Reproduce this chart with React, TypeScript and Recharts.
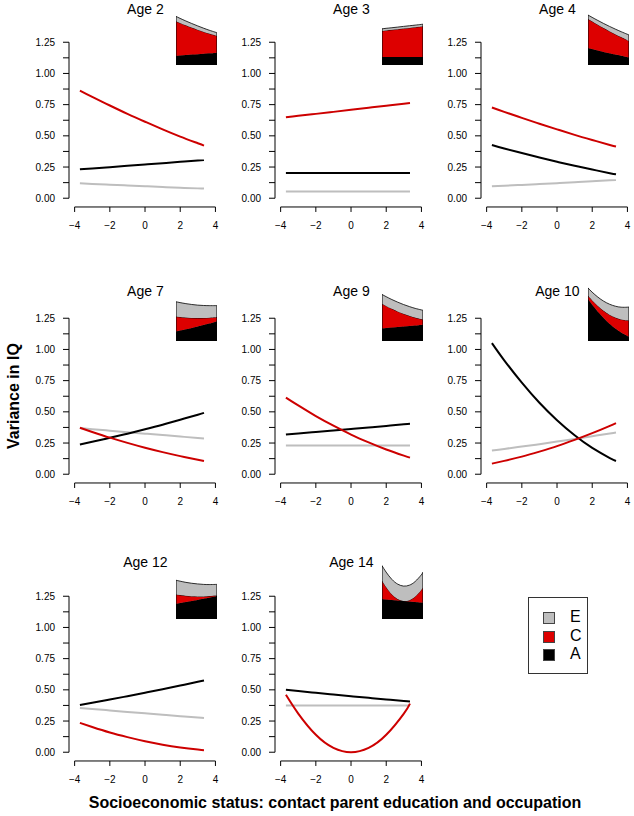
import React from "react";
import {
  LineChart,
  Line,
  AreaChart,
  Area,
  XAxis,
  YAxis,
  ReferenceLine,
} from "recharts";

// socioeconomic status values where the curves were read
const ses = [-3.7, -3, -2, -1, 0, 1, 2, 3, 3.35];

const age2A = [0.232, 0.239, 0.249, 0.26, 0.27, 0.281, 0.292, 0.303, 0.307];
const age2C = [0.863, 0.812, 0.743, 0.676, 0.613, 0.552, 0.494, 0.441, 0.422];
const age2E = [0.12, 0.115, 0.108, 0.102, 0.096, 0.09, 0.084, 0.079, 0.077];

const age3A = [0.203, 0.203, 0.203, 0.203, 0.203, 0.203, 0.203, 0.203, 0.203];
const age3C = [0.649, 0.661, 0.676, 0.692, 0.709, 0.725, 0.741, 0.758, 0.764];
const age3E = [0.053, 0.053, 0.053, 0.053, 0.053, 0.053, 0.053, 0.053, 0.053];

const age4A = [0.427, 0.399, 0.362, 0.326, 0.292, 0.26, 0.23, 0.201, 0.192];
const age4C = [0.727, 0.692, 0.644, 0.597, 0.552, 0.508, 0.467, 0.427, 0.414];
const age4E = [0.096, 0.101, 0.107, 0.114, 0.121, 0.129, 0.136, 0.144, 0.147];

const age7A = [0.239, 0.26, 0.292, 0.325, 0.36, 0.397, 0.437, 0.477, 0.492];
const age7C = [0.372, 0.339, 0.293, 0.251, 0.212, 0.177, 0.145, 0.116, 0.106];
const age7E = [0.37, 0.361, 0.349, 0.337, 0.325, 0.314, 0.302, 0.291, 0.287];

const age9A = [0.319, 0.327, 0.339, 0.351, 0.363, 0.375, 0.387, 0.4, 0.404];
const age9C = [0.614, 0.551, 0.466, 0.389, 0.318, 0.255, 0.198, 0.149, 0.133];
const age9E = [0.231, 0.231, 0.231, 0.231, 0.231, 0.231, 0.231, 0.231, 0.231];

const age10A = [1.051, 0.913, 0.734, 0.573, 0.433, 0.312, 0.211, 0.13, 0.106];
const age10C = [0.085, 0.107, 0.141, 0.181, 0.225, 0.275, 0.329, 0.388, 0.41];
const age10E = [0.191, 0.203, 0.222, 0.241, 0.262, 0.283, 0.305, 0.327, 0.335];

const age12A = [0.379, 0.397, 0.423, 0.449, 0.477, 0.505, 0.534, 0.564, 0.574];
const age12C = [0.235, 0.202, 0.158, 0.121, 0.088, 0.06, 0.038, 0.021, 0.016];
const age12E = [0.355, 0.347, 0.335, 0.323, 0.312, 0.3, 0.289, 0.279, 0.275];

const age14A = [0.5, 0.49, 0.476, 0.463, 0.449, 0.436, 0.423, 0.41, 0.406];
const age14C = [0.46, 0.31, 0.14, 0.035, 0.0, 0.035, 0.14, 0.31, 0.39];
const age14E = [0.374, 0.374, 0.374, 0.374, 0.374, 0.374, 0.374, 0.374, 0.374];

const panels = [
  { title: "Age 2", a: age2A, c: age2C, e: age2E },
  { title: "Age 3", a: age3A, c: age3C, e: age3E },
  { title: "Age 4", a: age4A, c: age4C, e: age4E },
  { title: "Age 7", a: age7A, c: age7C, e: age7E },
  { title: "Age 9", a: age9A, c: age9C, e: age9E },
  { title: "Age 10", a: age10A, c: age10C, e: age10E },
  { title: "Age 12", a: age12A, c: age12C, e: age12E },
  { title: "Age 14", a: age14A, c: age14C, e: age14E },
];

const xTicks = [-4, -2, 0, 2, 4];
const yTicks = [0, 0.125, 0.25, 0.375, 0.5, 0.625, 0.75, 0.875, 1, 1.125, 1.25];

const legendItems = [
  { label: "E", color: "#bebebe" },
  { label: "C", color: "#dd0000" },
  { label: "A", color: "#000000" },
];

// layout (pixels)
const FONT = "'Liberation Sans', Arial, Helvetica, sans-serif";
const COL_X = [75, 281, 487]; // pixel of SES = -4
const ROW_Y = [42, 318, 596]; // pixel of variance = 1.25
const TITLE_Y = [14, 296, 567];
const PX_X = 17.6;
const PX_Y = 124.8;
const X_DOMAIN: [number, number] = [-4.32, 4.32];
const Y_DOMAIN: [number, number] = [-0.07, 1.3];
const YAXIS_W = 44;
const M_TOP = 6;
const M_RIGHT = 10;
const XAXIS_H = 30;
const PLOT_W = (X_DOMAIN[1] - X_DOMAIN[0]) * PX_X;
const PLOT_H = (Y_DOMAIN[1] - Y_DOMAIN[0]) * PX_Y;
const INSET_W = 41;
const INSET_H = 56;

const LINE_RED = "#cd0000";
const LINE_GREY = "#bebebe";

const fmtX = (v: number) => (v < 0 ? "\u2212" + Math.abs(v) : String(v));
const fmtY = (v: number) => (Math.round(v * 8) % 2 === 0 ? v.toFixed(2) : "");

const Panel = ({ p, idx }: { p: (typeof panels)[number]; idx: number }) => {
  const row = Math.floor(idx / 3);
  const col = idx % 3;
  const data = ses.map((x, i) => ({ x, A: p.a[i], C: p.c[i], E: p.e[i] }));
  const plotLeft = COL_X[col] - (-4 - X_DOMAIN[0]) * PX_X;
  const plotTop = ROW_Y[row] - (Y_DOMAIN[1] - 1.25) * PX_Y;
  const zeroX = COL_X[col] + 4 * PX_X;
  const last = ses.length - 1;
  const total0 = p.a[0] + p.c[0] + p.e[0];
  const totalN = p.a[last] + p.c[last] + p.e[last];

  return (
    <>
      <div
        style={{
          position: "absolute",
          left: zeroX - 60,
          width: 120,
          top: TITLE_Y[row] - 13,
          textAlign: "center",
          fontSize: 14,
          lineHeight: "16px",
          fontFamily: FONT,
        }}
      >
        {p.title}
      </div>
      <div style={{ position: "absolute", left: plotLeft - YAXIS_W, top: plotTop - M_TOP }}>
        <LineChart
          width={YAXIS_W + PLOT_W + M_RIGHT}
          height={M_TOP + PLOT_H + XAXIS_H}
          data={data}
          margin={{ top: M_TOP, right: M_RIGHT, bottom: 0, left: 0 }}
        >
          <XAxis
            dataKey="x"
            type="number"
            domain={X_DOMAIN}
            allowDataOverflow
            ticks={xTicks}
            interval={0}
            tickFormatter={fmtX}
            axisLine={false}
            tickLine={{ stroke: "#000" }}
            tickSize={5}
            tickMargin={10}
            height={XAXIS_H}
            tick={{ fill: "#000", fontSize: 10, fontFamily: FONT }}
          />
          <YAxis
            type="number"
            domain={Y_DOMAIN}
            allowDataOverflow
            ticks={yTicks}
            interval={0}
            tickFormatter={fmtY}
            axisLine={false}
            tickLine={{ stroke: "#000" }}
            tickSize={6}
            tickMargin={8}
            width={YAXIS_W}
            tick={{ fill: "#000", fontSize: 10, fontFamily: FONT }}
          />
          <ReferenceLine
            segment={[
              { x: -4, y: Y_DOMAIN[0] },
              { x: 4, y: Y_DOMAIN[0] },
            ]}
            stroke="#000"
            strokeWidth={1}
            ifOverflow="visible"
          />
          <ReferenceLine
            segment={[
              { x: X_DOMAIN[0], y: 0 },
              { x: X_DOMAIN[0], y: 1.25 },
            ]}
            stroke="#000"
            strokeWidth={1}
            ifOverflow="visible"
          />
          <Line dataKey="E" type="natural" stroke={LINE_GREY} strokeWidth={2} dot={false} isAnimationActive={false} />
          <Line dataKey="A" type="natural" stroke="#000" strokeWidth={2} dot={false} isAnimationActive={false} />
          <Line dataKey="C" type="natural" stroke={LINE_RED} strokeWidth={2} dot={false} isAnimationActive={false} />
        </LineChart>
      </div>
      <div
        style={{
          position: "absolute",
          left: COL_X[col] + 101,
          top: ROW_Y[row] + 23 - INSET_H,
        }}
      >
        <AreaChart width={INSET_W} height={INSET_H} data={data} margin={{ top: 0, right: 0, bottom: 0, left: 0 }}>
          <XAxis dataKey="x" type="number" domain={[ses[0], ses[last]]} hide />
          <YAxis type="number" domain={[0, 1.4]} hide />
          <Area dataKey="A" stackId="s" type="natural" fill="#000" fillOpacity={1} stroke="#000" strokeWidth={0.8} isAnimationActive={false} />
          <Area dataKey="C" stackId="s" type="natural" fill="#dd0000" fillOpacity={1} stroke="#000" strokeWidth={0.8} isAnimationActive={false} />
          <Area dataKey="E" stackId="s" type="natural" fill="#bebebe" fillOpacity={1} stroke="#000" strokeWidth={0.8} isAnimationActive={false} />
          <ReferenceLine segment={[{ x: ses[0], y: 0 }, { x: ses[0], y: total0 }]} stroke="#000" strokeWidth={1} ifOverflow="visible" />
          <ReferenceLine segment={[{ x: ses[last], y: 0 }, { x: ses[last], y: totalN }]} stroke="#000" strokeWidth={1} ifOverflow="visible" />
        </AreaChart>
      </div>
    </>
  );
};

export default function App() {
  return (
    <div
      style={{
        position: "absolute",
        left: 0,
        top: 0,
        width: 634,
        height: 816,
        background: "#fff",
        fontFamily: FONT,
        overflow: "hidden",
      }}
    >
      {panels.map((p, i) => (
        <Panel key={p.title} p={p} idx={i} />
      ))}

      {/* y axis title */}
      <div
        style={{
          position: "absolute",
          left: 14 - 90,
          top: 396 - 10,
          width: 180,
          height: 20,
          lineHeight: "20px",
          textAlign: "center",
          fontSize: 16,
          fontWeight: "bold",
          transform: "rotate(-90deg)",
        }}
      >
        Variance in IQ
      </div>

      {/* x axis title */}
      <div
        style={{
          position: "absolute",
          left: 335 - 300,
          top: 793,
          width: 600,
          textAlign: "center",
          fontSize: 16,
          lineHeight: "20px",
          fontWeight: "bold",
        }}
      >
        Socioeconomic status: contact parent education and occupation
      </div>

      {/* legend */}
      <div
        style={{
          position: "absolute",
          left: 528,
          top: 597,
          width: 58,
          height: 75,
          border: "1px solid #333",
        }}
      >
        {legendItems.map((it, i) => (
          <div key={it.label} style={{ position: "absolute", left: 14, top: 14 + i * 18.5, height: 12 }}>
            <div
              style={{
                position: "absolute",
                left: 0,
                top: 0,
                width: 10,
                height: 10,
                background: it.color,
                border: "1px solid #444",
              }}
            />
            <div style={{ position: "absolute", left: 27, top: -4, fontSize: 16, lineHeight: "18px" }}>{it.label}</div>
          </div>
        ))}
      </div>
    </div>
  );
}
